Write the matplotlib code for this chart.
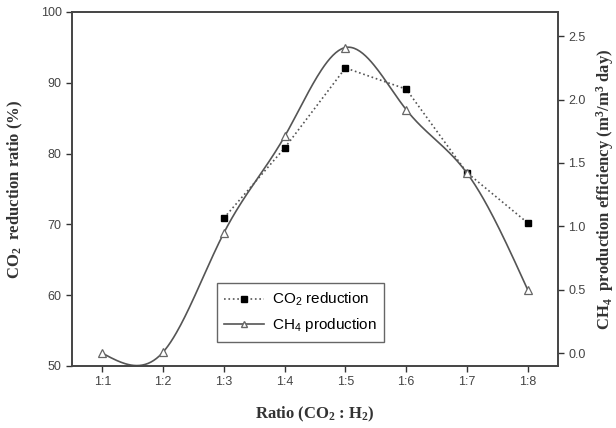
import numpy as np
import matplotlib
matplotlib.use("Agg")
import matplotlib.pyplot as plt

plt.rcParams['mathtext.default'] = 'regular'

# data
ratios = ['1:1', '1:2', '1:3', '1:4', '1:5', '1:6', '1:7', '1:8']
x_co2 = [3, 4, 5, 6, 7, 8]
co2_reduction = [70.9, 80.8, 92.1, 89.1, 77.3, 70.2]
x_ch4 = [1, 2, 3, 4, 5, 6, 7, 8]
ch4_production = [0.0, 0.01, 0.95, 1.71, 2.41, 1.92, 1.42, 0.5]


def natural_spline(x, y, n=300):
    # smooth connecting line through the points (like Origin's spline line)
    x = np.asarray(x, float)
    y = np.asarray(y, float)
    k = len(x)
    h = np.diff(x)
    A = np.zeros((k, k))
    b = np.zeros(k)
    A[0, 0] = A[-1, -1] = 1
    for i in range(1, k - 1):
        A[i, i - 1] = h[i - 1]
        A[i, i] = 2 * (h[i - 1] + h[i])
        A[i, i + 1] = h[i]
        b[i] = 6 * ((y[i + 1] - y[i]) / h[i] - (y[i] - y[i - 1]) / h[i - 1])
    M = np.linalg.solve(A, b)
    xs = np.linspace(x[0], x[-1], n)
    idx = np.clip(np.searchsorted(x, xs) - 1, 0, k - 2)
    x0, x1 = x[idx], x[idx + 1]
    hh = x1 - x0
    ys = (M[idx] * (x1 - xs) ** 3 / (6 * hh) + M[idx + 1] * (xs - x0) ** 3 / (6 * hh)
          + (y[idx] / hh - M[idx] * hh / 6) * (x1 - xs)
          + (y[idx + 1] / hh - M[idx + 1] * hh / 6) * (xs - x0))
    return xs, ys


fig = plt.figure(figsize=(6.16, 4.28), dpi=100)
ax = fig.add_axes([0.117, 0.145, 0.789, 0.827])
ax2 = ax.twinx()

line_col = '#555555'
l1, = ax.plot(x_co2, co2_reduction, ':', color=line_col, lw=1.2, marker='s',
              mfc='black', mec='black', ms=5, label='CO$_2$ reduction')

tx, ty = natural_spline(x_ch4, ch4_production)
ax2.plot(tx, ty, '-', color=line_col, lw=1.2)
ax2.plot(x_ch4, ch4_production, '^', mfc='white', mec='#666666', ms=6, mew=0.9)
l2, = ax2.plot([], [], '-', color=line_col, lw=1.2, marker='^', mfc='white',
               mec='#666666', ms=5, label='CH$_4$ production')

ax.set_xlim(0.5, 8.5)
ax.set_ylim(50, 100)
ax2.set_ylim(-0.1, 2.69)
ax.set_xticks(range(1, 9))
ax.set_xticklabels(ratios)
ax.set_yticks([50, 60, 70, 80, 90, 100])
ax2.set_yticks([0.0, 0.5, 1.0, 1.5, 2.0, 2.5])
ax2.set_yticklabels(['0.0', '0.5', '1.0', '1.5', '2.0', '2.5'])

for a in (ax, ax2):
    a.tick_params(direction='out', length=4, width=1, labelsize=9,
                  colors='#333333', labelcolor='#444444')
    for s in a.spines.values():
        s.set_linewidth(1.2)
        s.set_color('#444444')
for lab in ax.get_xticklabels() + ax.get_yticklabels() + ax2.get_yticklabels():
    lab.set_family('Liberation Sans')

label_font = dict(family='Liberation Serif', weight='bold', size=12, color='#333333')
ax.set_xlabel('Ratio (CO$_2$ : H$_2$)', labelpad=12, **label_font)
ax.set_ylabel('CO$_2$  reduction ratio (%)', labelpad=11, **label_font)
ax2.set_ylabel('CH$_4$  production efficiency (m$^3$/m$^3$ day)', labelpad=6, **label_font)

leg = ax.legend(handles=[l1, l2], loc='lower left', bbox_to_anchor=(0.282, 0.047),
                fancybox=False, edgecolor='#666666', framealpha=1,
                prop={'family': 'Liberation Sans', 'size': 11}, handlelength=2.6,
                borderpad=0.5, labelspacing=0.5, handletextpad=0.5)
leg.get_frame().set_linewidth(1.0)

fig.savefig('out.png', dpi=100)
